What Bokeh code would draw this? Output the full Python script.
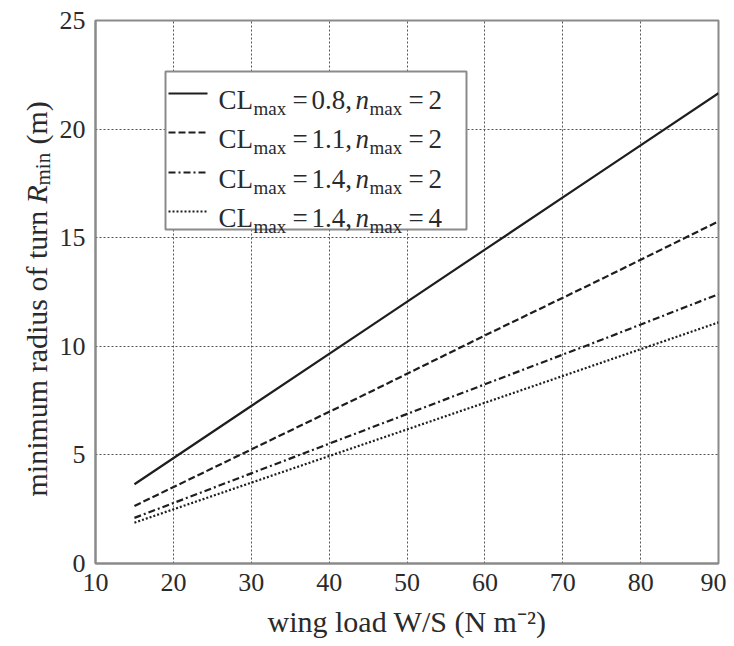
import math
from bokeh.plotting import figure
from bokeh.layouts import row
from bokeh.models import Range1d, FixedTicker, Label
from bokeh.embed import file_html
from bokeh.resources import INLINE

# ---- data ----
wing_load = [15, 30, 45, 60, 75, 90]
r_cl08_n2 = [3.65, 7.25, 10.85, 14.45, 18.05, 21.65]
r_cl11_n2 = [2.65, 5.25, 7.85, 10.5, 13.1, 15.75]
r_cl14_n2 = [2.1, 4.15, 6.2, 8.25, 10.3, 12.4]
r_cl14_n4 = [1.88, 3.72, 5.56, 7.4, 9.25, 11.1]
cl_values = ["0.8,", "1.1,", "1.4,", "1.4,"]
n_values = ["2", "2", "2", "4"]
x_ticks = [10, 20, 30, 40, 50, 60, 70, 80, 90]
y_ticks = [0, 5, 10, 15, 20, 25]

series = [r_cl08_n2, r_cl11_n2, r_cl14_n2, r_cl14_n4]
dashes = ["solid", "7 3", "7 3 2 3", "2 2"]

FONT = "Liberation Serif"
TXT = "#2a2a2a"
GRAY = "#8a8a8a"

# page geometry
TOTAL_H = 646
YW = 55                      # width of the strip holding the y title
BL, BR, BT, BB = 40, 8, 20, 83
FW, FH = 623, 543
MW = BL + FW + BR
FL, FT = YW + BL, BT         # frame left/top on the page
FB = FT + FH

# ---- y title strip (its frame is aligned with the main frame by the row) ----
yfig = figure(width=YW, height=TOTAL_H, x_range=Range1d(0, YW),
              y_range=Range1d(TOTAL_H - FB, TOTAL_H - FT),
              output_backend="svg", toolbar_location=None,
              x_axis_location=None, y_axis_location=None,
              min_border_left=0, min_border_right=0, min_border_top=BT, min_border_bottom=BB)
yfig.outline_line_color = None
yfig.grid.visible = False
yfig.background_fill_color = "white"
yfig.border_fill_color = "white"


def ylab(text, bx, py, size, style="normal"):
    yfig.add_layout(Label(x=bx, y=TOTAL_H - py, text=text, text_font=FONT,
                          text_font_size=f"{size}px", text_font_style=style,
                          text_color=TXT, angle=math.pi / 2,
                          text_align="left", text_baseline="alphabetic"))


ylab("minimum radius of turn", 36, 496, 30)
ylab("R", 36, 203, 30, "italic")
ylab("min", 42, 185, 21)
ylab("(m)", 36, 144, 30)

# ---- main chart ----
p = figure(width=MW, height=TOTAL_H, x_range=Range1d(10, 90), y_range=Range1d(0, 25),
           output_backend="svg", toolbar_location=None,
           min_border_left=BL, min_border_right=BR, min_border_top=BT, min_border_bottom=BB)
p.background_fill_color = "white"
p.border_fill_color = "white"
p.outline_line_color = GRAY
p.outline_line_width = 2

p.xaxis.ticker = FixedTicker(ticks=x_ticks)
p.yaxis.ticker = FixedTicker(ticks=y_ticks)
for ax in (p.xaxis, p.yaxis):
    ax.axis_line_color = GRAY
    ax.axis_line_width = 2
    ax.major_tick_in = 0
    ax.major_tick_out = 0
    ax.minor_tick_line_color = None
    ax.major_label_text_font = FONT
    ax.major_label_text_font_size = "26px"
    ax.major_label_text_color = TXT
p.xaxis.major_label_standoff = 10
p.yaxis.major_label_standoff = 10

p.xaxis.axis_label = "wing load W/S (N m\u207b\u00b2)"
p.xaxis.axis_label_text_font = FONT
p.xaxis.axis_label_text_font_size = "30px"
p.xaxis.axis_label_text_font_style = "normal"
p.xaxis.axis_label_text_color = TXT
p.xaxis.axis_label_standoff = 11

p.grid.grid_line_color = "#555555"
p.grid.grid_line_dash = "2 2"
p.grid.grid_line_width = 1

for ys, d in zip(series, dashes):
    p.line(wing_load, ys, line_color="#1e1e1e", line_width=2.2, line_dash=d)


def px2x(px):
    return 10 + (px - FL) / FW * 80


def py2y(py):
    return (FB - py) / FH * 25


def lab(text, px, py, size, style="normal"):
    p.add_layout(Label(x=px2x(px), y=py2y(py), text=text,
                       text_font=FONT, text_font_size=f"{size}px",
                       text_font_style=style, text_color=TXT,
                       text_align="left", text_baseline="alphabetic"))


# ---- legend ----
LX0, LX1, LY0, LY1 = 165, 466, 71, 229
p.quad(left=[px2x(LX0)], right=[px2x(LX1)], top=[py2y(LY0)], bottom=[py2y(LY1)],
       fill_color="white", line_color=GRAY, line_width=2)
row_base = [99, 138, 178, 217]
for b, d, cl, n in zip(row_base, dashes, cl_values, n_values):
    p.line([px2x(168), px2x(207)], [py2y(b - 6), py2y(b - 6)],
           line_color="#1e1e1e", line_width=2.2, line_dash=d)
    lab("CL", 218, b, 27)
    lab("max", 253, b + 9, 19)
    lab("=", 292, b, 27)
    lab(cl, 311, b, 27)
    lab("n", 355, b, 27, "italic")
    lab("max", 369, b + 9, 19)
    lab("=", 408, b, 27)
    lab(n, 428, b, 27)

layout = row(yfig, p)
open("out.html", "w").write(file_html(layout, INLINE))
